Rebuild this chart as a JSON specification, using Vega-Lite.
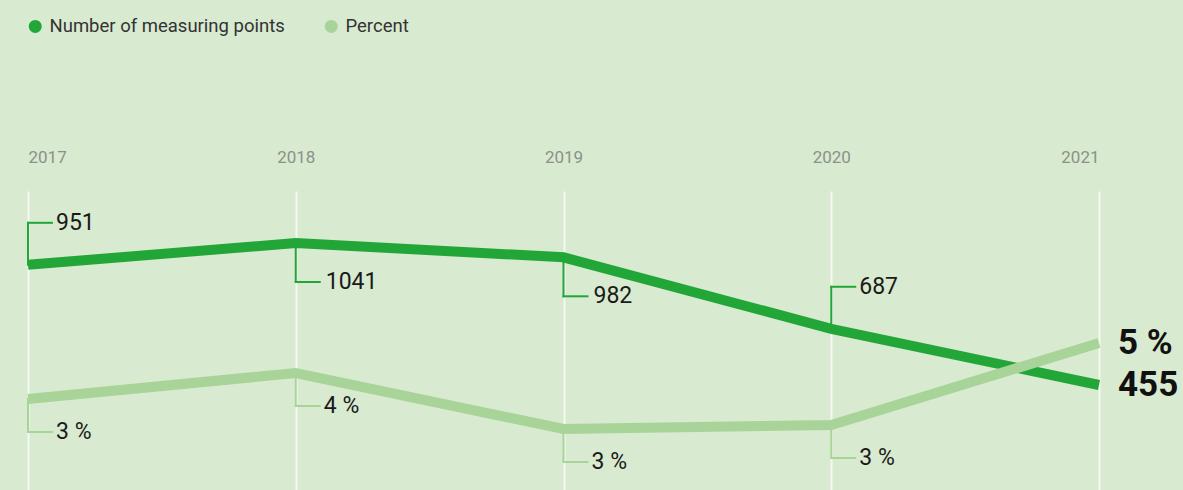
{
  "$schema": "https://vega.github.io/schema/vega-lite/v6.json",
  "width": 1183,
  "height": 299,
  "autosize": {"type": "none"},
  "padding": {"top": 191, "left": 0, "right": 0, "bottom": 0},
  "background": "#d8eacf",
  "config": {"view": {"stroke": null}, "font": "Roboto"},
  "data": {
    "values": [
      {"year": 2017, "series": "Number of measuring points", "value": 951, "label": "951", "side": "above"},
      {"year": 2018, "series": "Number of measuring points", "value": 1041, "label": "1041", "side": "below"},
      {"year": 2019, "series": "Number of measuring points", "value": 982, "label": "982", "side": "below"},
      {"year": 2020, "series": "Number of measuring points", "value": 687, "label": "687", "side": "above"},
      {"year": 2021, "series": "Number of measuring points", "value": 455, "label": "455", "side": "end"},
      {"year": 2017, "series": "Percent", "value": 3.3, "label": "3 %", "side": "below"},
      {"year": 2018, "series": "Percent", "value": 3.95, "label": "4 %", "side": "below"},
      {"year": 2019, "series": "Percent", "value": 2.55, "label": "3 %", "side": "below"},
      {"year": 2020, "series": "Percent", "value": 2.65, "label": "3 %", "side": "below"},
      {"year": 2021, "series": "Percent", "value": 4.7, "label": "5 %", "side": "end"}
    ]
  },
  "layer": [
    {
      "transform": [{"filter": "datum.series === 'Number of measuring points'"}],
      "encoding": {
        "x": {"field": "year", "type": "quantitative",
          "scale": {"domain": [2017, 2021], "range": [28, 1099], "nice": false, "zero": false},
          "axis": {"orient": "top", "values": [2017, 2018, 2019, 2020, 2021], "format": "d", "title": null,
            "domain": false, "ticks": false, "tickSize": 0, "labelPadding": 25, "labelFlush": true,
            "labelFontSize": 17, "labelColor": "#8c918a", "labelFont": "Roboto",
            "grid": true, "gridColor": "#f5f8f1", "gridWidth": 2}},
        "y": {"field": "value", "type": "quantitative", "scale": {"domain": [21.7, 1255.6], "nice": false, "zero": false}, "axis": null}
      },
      "layer": [
        {"mark": {"type": "line", "strokeWidth": 10, "strokeCap": "butt", "strokeJoin": "miter"},
          "encoding": {"color": {"field": "series", "type": "nominal",
            "scale": {"domain": ["Number of measuring points", "Percent"], "range": ["#22a638", "#a8d49a"]},
            "legend": {"orient": "none", "legendX": 26, "legendY": -174, "direction": "horizontal", "title": null,
              "symbolType": "circle", "symbolSize": 169, "labelFontSize": 18.5, "labelColor": "#333333", "labelFont": "Roboto",
              "labelLimit": 0, "labelOffset": 5, "columnPadding": 37, "padding": 0, "symbolStrokeWidth": 0,
              "encode": {"symbols": {"update": {"fill": {"scale": "color", "field": "value"}, "fillOpacity": {"value": 1}, "stroke": {"value": "transparent"}}}}}}}},
        {"transform": [{"filter": "datum.side === 'above'"}],
          "mark": {"type": "rule", "color": "#22a638", "strokeWidth": 2, "y2Offset": -42, "strokeCap": "square"},
          "encoding": {"y2": {"field": "value"}}},
        {"transform": [{"filter": "datum.side === 'above'"}],
          "mark": {"type": "rule", "color": "#22a638", "strokeWidth": 2, "yOffset": -42, "x2Offset": 24, "strokeCap": "square"},
          "encoding": {"x2": {"field": "year"}}},
        {"transform": [{"filter": "datum.side === 'above'"}],
          "mark": {"type": "text", "align": "left", "baseline": "middle", "dx": 28, "dy": -42, "fontSize": 23, "color": "#1a1a1a"},
          "encoding": {"text": {"field": "label"}}},
        {"transform": [{"filter": "datum.side === 'below'"}],
          "mark": {"type": "rule", "color": "#22a638", "strokeWidth": 2, "y2Offset": 39, "strokeCap": "square"},
          "encoding": {"y2": {"field": "value"}}},
        {"transform": [{"filter": "datum.side === 'below'"}],
          "mark": {"type": "rule", "color": "#22a638", "strokeWidth": 2, "yOffset": 39, "x2Offset": 24, "strokeCap": "square"},
          "encoding": {"x2": {"field": "year"}}},
        {"transform": [{"filter": "datum.side === 'below'"}],
          "mark": {"type": "text", "align": "left", "baseline": "middle", "dx": 30, "dy": 39, "fontSize": 23, "color": "#1a1a1a"},
          "encoding": {"text": {"field": "label"}}},
        {"transform": [{"filter": "datum.side === 'end'"}],
          "mark": {"type": "text", "align": "left", "baseline": "middle", "dx": 19, "fontSize": 35, "fontWeight": "bold", "color": "#111111"},
          "encoding": {"text": {"field": "label"}}}
      ]
    },
    {
      "transform": [{"filter": "datum.series === 'Percent'"}],
      "encoding": {
        "x": {"field": "year", "type": "quantitative",
          "scale": {"domain": [2017, 2021], "range": [28, 1099], "nice": false, "zero": false},
          "axis": {"orient": "top", "values": [2017, 2018, 2019, 2020, 2021], "format": "d", "title": null,
            "domain": false, "ticks": false, "tickSize": 0, "labelPadding": 25, "labelFlush": true,
            "labelFontSize": 17, "labelColor": "#8c918a", "labelFont": "Roboto",
            "grid": true, "gridColor": "#f5f8f1", "gridWidth": 2}},
        "y": {"field": "value", "type": "quantitative", "scale": {"domain": [1.025, 8.5], "nice": false, "zero": false}, "axis": null}
      },
      "layer": [
        {"mark": {"type": "line", "strokeWidth": 10, "strokeCap": "butt", "strokeJoin": "miter"},
          "encoding": {"color": {"field": "series", "type": "nominal",
            "scale": {"domain": ["Number of measuring points", "Percent"], "range": ["#22a638", "#a8d49a"]}}}},
        {"transform": [{"filter": "datum.side === 'below'"}],
          "mark": {"type": "rule", "color": "#a8d49a", "strokeWidth": 2, "y2Offset": 33, "strokeCap": "square"},
          "encoding": {"y2": {"field": "value"}}},
        {"transform": [{"filter": "datum.side === 'below'"}],
          "mark": {"type": "rule", "color": "#a8d49a", "strokeWidth": 2, "yOffset": 33, "x2Offset": 24, "strokeCap": "square"},
          "encoding": {"x2": {"field": "year"}}},
        {"transform": [{"filter": "datum.side === 'below'"}],
          "mark": {"type": "text", "align": "left", "baseline": "middle", "dx": 28, "dy": 33, "fontSize": 23, "color": "#1a1a1a"},
          "encoding": {"text": {"field": "label"}}},
        {"transform": [{"filter": "datum.side === 'end'"}],
          "mark": {"type": "text", "align": "left", "baseline": "middle", "dx": 19, "fontSize": 35, "fontWeight": "bold", "color": "#111111"},
          "encoding": {"text": {"field": "label"}}}
      ]
    }
  ],
  "resolve": {"scale": {"y": "independent"}}
}
